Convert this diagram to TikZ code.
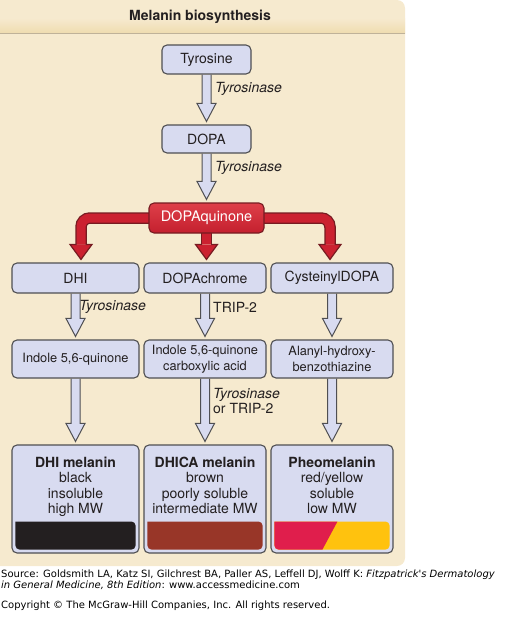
\documentclass[tikz,border=0pt]{standalone}
\usepackage{fontspec}
\setmainfont{TeX Gyre Heros}
\newfontfamily\srcfont{DejaVu Sans}
\usetikzlibrary{calc,positioning}
\definecolor{panel}{HTML}{F6EACF}
\definecolor{band}{HTML}{EFDCB0}
\definecolor{bandline}{HTML}{BFB299}
\definecolor{boxfill}{HTML}{D8DBF0}
\definecolor{boxline}{HTML}{4F4F52}
\definecolor{ink}{HTML}{231F20}
\definecolor{dqtop}{HTML}{DE3F49}
\definecolor{dqbot}{HTML}{C4202E}
\definecolor{dqline}{HTML}{761B21}
\definecolor{arrred}{HTML}{CB2130}
\definecolor{barblack}{HTML}{231F20}
\definecolor{barbrown}{HTML}{983628}
\definecolor{barred}{HTML}{E01E4C}
\definecolor{baryellow}{HTML}{FFC20E}
\pgfdeclarelayer{panel}
\pgfdeclarelayer{arrows}
\pgfsetlayers{panel,arrows,main}
\tikzset{
  stage/.style={draw=boxline, line width=1.1pt, fill=boxfill, rounded corners=5pt, align=center,
    inner sep=2pt, text=ink, font=\fontsize{14}{15.5}\selectfont},
  midstage/.style={stage, minimum height=38pt, font=\fontsize{12.8}{15.5}\selectfont},
  pigment/.style={stage, minimum height=108pt},
  pigtext/.style={inner sep=0pt, align=center, text=ink, font=\fontsize{14}{15.5}\selectfont},
  key/.style={draw=dqline, line width=1.1pt, top color=dqtop, bottom color=dqbot, rounded corners=5pt,
    text=white, inner sep=2pt, font=\fontsize{14.5}{16}\selectfont},
  enz/.style={inner sep=0pt, text=ink, align=left, font=\fontsize{14}{15}\selectfont},
  flowarr/.style={draw=boxline, line width=1pt, fill=boxfill, line join=miter},
  redout/.style={draw=dqline, line width=11.5pt, rounded corners=9pt},
  redin/.style={draw=arrred, line width=9pt, rounded corners=9pt},
  redhead/.style={draw=dqline, fill=arrred, line width=1.2pt, line join=miter},
  srcnote/.style={anchor=north west, inner sep=0pt, align=left, font=\srcfont\fontsize{10}{11}\selectfont},
}
\newcommand{\flowdown}[2]{\filldraw[flowarr] let \p1=(#1.south), \p2=(#2.north) in
  (\x1-4.5pt,\y1) -- (\x1-4.5pt,\y2+21pt) -- (\x1-9.5pt,\y2+21pt) -- (\x1,\y2+3pt)
  -- (\x1+9.5pt,\y2+21pt) -- (\x1+4.5pt,\y2+21pt) -- (\x1+4.5pt,\y1);}
\newcommand{\redbranch}[3]{\coordinate (#1base) at ($(#1.north)+(#2,18pt)$);
  \draw[redout] (dq.center) #3 (#1base);
  \draw[redin] (dq.center) #3 (#1base);
  \filldraw[redhead] ($(#1base)+(-4.5pt,0)$) -- ++(-6.5pt,0) -- ++(11pt,-15pt) -- ++(11pt,15pt) -- ++(-6.5pt,0);}
\newcommand{\pigbar}[2]{\fill[#2] let \p1=(#1.south west), \p2=(#1.south east) in
  (\x1+4pt,\y1+32pt) [rounded corners=4pt] -- (\x1+4pt,\y1+4pt) -- (\x2-4pt,\y1+4pt)
  -- (\x2-4pt,\y1+32pt) [sharp corners] -- cycle;}
\def\xT{206.5}
\def\xA{75.5}
\def\xB{205}
\def\xC{332}

\begin{document}
\begin{tikzpicture}[x=1pt, y=1pt]
\useasboundingbox (0,0) rectangle (506,-622);

\begin{pgfonlayer}{panel}
\fill[panel, rounded corners=8pt] (-10,0) rectangle (405,-566);
\fill[top color=panel, bottom color=band] (-10,-18) rectangle (405,-33);
\draw[bandline, line width=1.3pt] (-10,-33.5) -- (405,-33.5);
\end{pgfonlayer}

\node[text=ink, font=\bfseries\fontsize{14}{16}\selectfont] (title) at (200,-17) {Melanin biosynthesis};

\node[stage, minimum width=89pt, minimum height=29pt] (tyr) at (\xT,-59.5) {Tyrosine};
\node[stage, minimum width=89pt, minimum height=28pt] (dopa) at (\xT,-139) {DOPA};
\node[key, minimum width=115pt, minimum height=30pt] (dq) at (\xT,-218) {DOPAquinone};

\node[stage, minimum width=127pt, minimum height=30pt] (dhi) at (\xA,-278) {DHI};
\node[stage, minimum width=122pt, minimum height=30pt] (dchr) at (\xB,-278) {DOPAchrome};
\node[stage, minimum width=122pt, minimum height=30pt] (cys) at (\xC,-278) {CysteinylDOPA};

\node[midstage, minimum width=127pt] (iq) at (\xA,-359) {Indole 5,6-quinone};
\node[midstage, minimum width=122pt] (iqc) at (\xB,-359) {Indole 5,6-quinone\\carboxylic acid};
\node[midstage, minimum width=122pt] (abt) at (\xC,-359) {Alanyl-hydroxy-\\benzothiazine};

\node[pigment, minimum width=127pt] (dhim) at (\xA,-499) {};
\node[pigment, minimum width=122pt] (dhicam) at (\xB,-499) {};
\node[pigment, minimum width=122pt] (pheo) at (\xC,-499) {};
\node[pigtext, below=12pt of dhim.north] (dhimt) {\textbf{DHI melanin}\\black\\insoluble\\high MW};
\node[pigtext, below=12pt of dhicam.north] (dhicamt) {\textbf{DHICA melanin}\\brown\\poorly soluble\\intermediate MW};
\node[pigtext, below=12pt of pheo.north] (pheot) {\textbf{Pheomelanin}\\red/yellow\\soluble\\low MW};
\pigbar{dhim}{barblack}
\pigbar{dhicam}{barbrown}
\pigbar{pheo}{baryellow}
\fill[barred] let \p1=(pheo.south west) in
  (\x1+4pt,\y1+32pt) [rounded corners=4pt] -- (\x1+4pt,\y1+4pt) [sharp corners] -- (\x1+52pt,\y1+4pt)
  -- (\x1+67pt,\y1+32pt) -- cycle;

\node[enz, anchor=west] (enz1) at (215,-89) {\itshape Tyrosinase};
\node[enz, anchor=west] (enz2) at (215,-168) {\itshape Tyrosinase};
\node[enz, anchor=west] (enz3) at (79,-307) {\itshape Tyrosinase};
\node[enz, anchor=west] (trip1) at (213,-307) {TRIP-2};
\node[enz, anchor=west] (enz4) at (213,-401) {\textit{Tyrosinase}\\or TRIP-2};

\begin{pgfonlayer}{arrows}
\flowdown{tyr}{dopa}
\flowdown{dopa}{dq}
\redbranch{dhi}{5.5pt}{-|}
\redbranch{dchr}{1.5pt}{--}
\redbranch{cys}{-2pt}{-|}
\flowdown{dhi}{iq}
\flowdown{dchr}{iqc}
\flowdown{cys}{abt}
\flowdown{iq}{dhim}
\flowdown{iqc}{dhicam}
\flowdown{abt}{pheo}
\end{pgfonlayer}

\node[srcnote] (src) at (1,-570)
  {Source: Goldsmith LA, Katz SI, Gilchrest BA, Paller AS, Leffell DJ, Wolff K: \textit{Fitzpatrick's Dermatology}\\
   \textit{in General Medicine, 8th Edition}: www.accessmedicine.com};
\node[srcnote] (copy) at (1,-601)
  {Copyright © The McGraw-Hill Companies, Inc. All rights reserved.};

\end{tikzpicture}
\end{document}
